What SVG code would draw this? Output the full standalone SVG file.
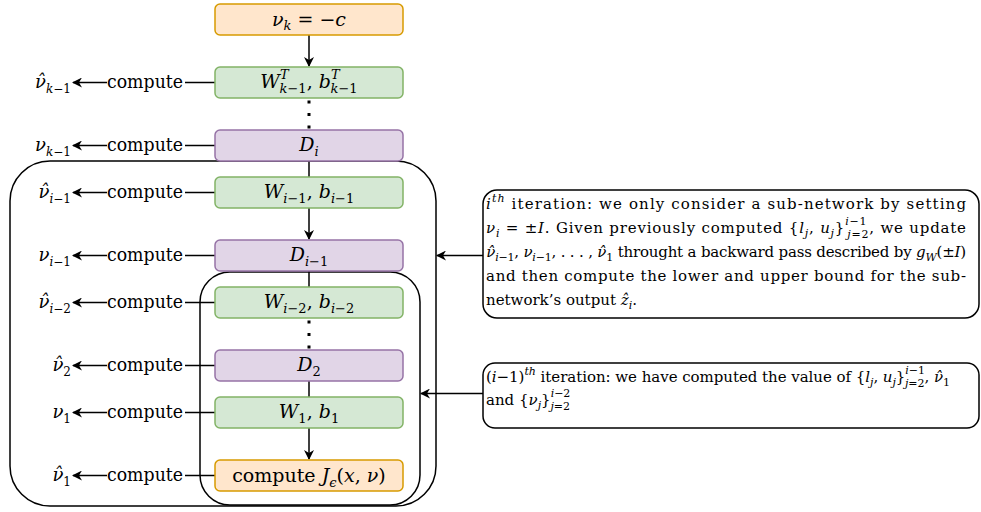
<svg xmlns="http://www.w3.org/2000/svg" width="981" height="512" viewBox="0 0 981 512">
  <style>
    .orange { fill: #ffe6cc; stroke: #d79b00; stroke-width: 1.5; }
    .green { fill: #d5e8d4; stroke: #82b366; stroke-width: 1.5; }
    .purple { fill: #e1d5e7; stroke: #9673a6; stroke-width: 1.5; }
    .frame { fill: none; stroke: #000; stroke-width: 1.5; }
    .callout { fill: #fff; stroke: #000; stroke-width: 1.5; }
    .edge { fill: none; stroke: #000; stroke-width: 1.5; }
    .dots { fill: none; stroke: #000; stroke-width: 3; stroke-dasharray: 3 9.5; }
    .ls { font-family: DejaVu Serif, serif; }
    .dv { font-family: DejaVu Serif, serif; font-style: italic; }
    .math { font-size: 19px; font-style: italic; }
    .lbl { font-size: 18px; font-style: italic; }
    .cmp { font-size: 18px; }
    .note { font-size: 15px; }
    .it { font-style: italic; }
    .up { font-style: normal; }
  </style>
  <defs>
    <marker id="arrow" viewBox="0 0 10 10" refX="9" refY="5" markerWidth="10" markerHeight="10" markerUnits="userSpaceOnUse" orient="auto">
      <path d="M0,0 L10,5 L0,10 L3,5 z" fill="#000"/>
    </marker>
  </defs>

  <!-- iteration frames -->
  <g id="frames">
    <rect id="frame-outer" class="frame" x="10" y="161" width="426" height="345" rx="40"/>
    <rect id="frame-inner" class="frame" x="200" y="272" width="220" height="233" rx="30"/>
  </g>

  <!-- connectors -->
  <g id="connectors">
    <line class="edge" x1="309" y1="35" x2="309" y2="66" marker-end="url(#arrow)"/>
    <line class="dots" x1="309" y1="100.5" x2="309" y2="130"/>
    <line class="edge" x1="309" y1="161" x2="309" y2="177"/>
    <line class="edge" x1="309" y1="208" x2="309" y2="239" marker-end="url(#arrow)"/>
    <line class="edge" x1="309" y1="271" x2="309" y2="287"/>
    <line class="dots" x1="309" y1="320.5" x2="309" y2="350"/>
    <line class="edge" x1="309" y1="381" x2="309" y2="397"/>
    <line class="edge" x1="309" y1="428" x2="309" y2="459" marker-end="url(#arrow)"/>

    <!-- "compute" edges to the left -->
    <g id="compute-edges">
      <path class="edge" d="M215,82.5 H185 M107,82.5 H73" marker-end="url(#arrow)"/>
      <path class="edge" d="M215,145.5 H185 M107,145.5 H73" marker-end="url(#arrow)"/>
      <path class="edge" d="M215,192.5 H185 M107,192.5 H73" marker-end="url(#arrow)"/>
      <path class="edge" d="M215,255.5 H185 M107,255.5 H73" marker-end="url(#arrow)"/>
      <path class="edge" d="M215,302.5 H185 M107,302.5 H73" marker-end="url(#arrow)"/>
      <path class="edge" d="M215,365.5 H185 M107,365.5 H73" marker-end="url(#arrow)"/>
      <path class="edge" d="M215,412.5 H185 M107,412.5 H73" marker-end="url(#arrow)"/>
      <path class="edge" d="M215,475.5 H185 M107,475.5 H73" marker-end="url(#arrow)"/>
      <text class="cmp" x="107" y="88" textLength="76" lengthAdjust="spacingAndGlyphs"><tspan class="ls">compute</tspan></text>
      <text class="cmp" x="107" y="151" textLength="76" lengthAdjust="spacingAndGlyphs"><tspan class="ls">compute</tspan></text>
      <text class="cmp" x="107" y="198" textLength="76" lengthAdjust="spacingAndGlyphs"><tspan class="ls">compute</tspan></text>
      <text class="cmp" x="107" y="261" textLength="76" lengthAdjust="spacingAndGlyphs"><tspan class="ls">compute</tspan></text>
      <text class="cmp" x="107" y="308" textLength="76" lengthAdjust="spacingAndGlyphs"><tspan class="ls">compute</tspan></text>
      <text class="cmp" x="107" y="371" textLength="76" lengthAdjust="spacingAndGlyphs"><tspan class="ls">compute</tspan></text>
      <text class="cmp" x="107" y="418" textLength="76" lengthAdjust="spacingAndGlyphs"><tspan class="ls">compute</tspan></text>
      <text class="cmp" x="107" y="481" textLength="76" lengthAdjust="spacingAndGlyphs"><tspan class="ls">compute</tspan></text>
    </g>

    <!-- callout pointers -->
    <line class="edge" x1="483" y1="255.5" x2="437" y2="255.5" marker-end="url(#arrow)"/>
    <line class="edge" x1="483" y1="393.5" x2="421" y2="393.5" marker-end="url(#arrow)"/>
  </g>

  <!-- output labels -->
  <g id="outputs">
    <text class="lbl" x="71" y="88" text-anchor="end"><tspan class="dv" font-size="18">ν̂</tspan><tspan class="ls" font-size="12" dy="5">k<tspan class="up">−1</tspan></tspan></text>
    <text class="lbl" x="71" y="151" text-anchor="end"><tspan class="dv" font-size="18">ν</tspan><tspan class="ls" font-size="12" dy="5">k<tspan class="up">−1</tspan></tspan></text>
    <text class="lbl" x="71" y="198" text-anchor="end"><tspan class="dv" font-size="18">ν̂</tspan><tspan class="ls" font-size="12" dy="5">i<tspan class="up">−1</tspan></tspan></text>
    <text class="lbl" x="71" y="261" text-anchor="end"><tspan class="dv" font-size="18">ν</tspan><tspan class="ls" font-size="12" dy="5">i<tspan class="up">−1</tspan></tspan></text>
    <text class="lbl" x="71" y="308" text-anchor="end"><tspan class="dv" font-size="18">ν̂</tspan><tspan class="ls" font-size="12" dy="5">i<tspan class="up">−2</tspan></tspan></text>
    <text class="lbl" x="71" y="371" text-anchor="end"><tspan class="dv" font-size="18">ν̂</tspan><tspan class="ls up" font-size="12" dy="5">2</tspan></text>
    <text class="lbl" x="71" y="418" text-anchor="end"><tspan class="dv" font-size="18">ν</tspan><tspan class="ls up" font-size="12" dy="5">1</tspan></text>
    <text class="lbl" x="71" y="481" text-anchor="end"><tspan class="dv" font-size="18">ν̂</tspan><tspan class="ls up" font-size="12" dy="5">1</tspan></text>
  </g>

  <!-- network nodes -->
  <g id="node-nu-k">
    <rect class="orange" x="215" y="4" width="188" height="31" rx="5"/>
    <text class="math" x="309" y="26" text-anchor="middle"><tspan class="dv">ν</tspan><tspan class="ls"><tspan font-size="13" dy="4">k</tspan><tspan dy="-4" class="up"> = −</tspan>c</tspan></text>
  </g>
  <g id="node-w-k1">
    <rect class="green" x="215" y="67" width="188" height="31" rx="5"/>
    <text class="math" x="309" y="88" text-anchor="middle"><tspan class="ls">W<tspan font-size="13" dy="-9">T</tspan><tspan font-size="13" dx="-9" dy="14">k<tspan class="up">−1</tspan></tspan><tspan dy="-5" class="up">, </tspan>b<tspan font-size="13" dy="-9">T</tspan><tspan font-size="13" dx="-9" dy="14">k<tspan class="up">−1</tspan></tspan></tspan></text>
  </g>
  <g id="node-d-i">
    <rect class="purple" x="215" y="130" width="188" height="31" rx="5"/>
    <text class="math" x="309" y="151" text-anchor="middle"><tspan class="ls">D<tspan font-size="13" dy="5">i</tspan></tspan></text>
  </g>
  <g id="node-w-i1">
    <rect class="green" x="215" y="177" width="188" height="31" rx="5"/>
    <text class="math" x="309" y="198" text-anchor="middle"><tspan class="ls">W<tspan font-size="13" dy="5">i<tspan class="up">−1</tspan></tspan><tspan dy="-5" class="up">, </tspan>b<tspan font-size="13" dy="5">i<tspan class="up">−1</tspan></tspan></tspan></text>
  </g>
  <g id="node-d-i1">
    <rect class="purple" x="215" y="240" width="188" height="31" rx="5"/>
    <text class="math" x="309" y="261" text-anchor="middle"><tspan class="ls">D<tspan font-size="13" dy="5">i<tspan class="up">−1</tspan></tspan></tspan></text>
  </g>
  <g id="node-w-i2">
    <rect class="green" x="215" y="287" width="188" height="31" rx="5"/>
    <text class="math" x="309" y="308" text-anchor="middle"><tspan class="ls">W<tspan font-size="13" dy="5">i<tspan class="up">−2</tspan></tspan><tspan dy="-5" class="up">, </tspan>b<tspan font-size="13" dy="5">i<tspan class="up">−2</tspan></tspan></tspan></text>
  </g>
  <g id="node-d-2">
    <rect class="purple" x="215" y="350" width="188" height="31" rx="5"/>
    <text class="math" x="309" y="371" text-anchor="middle"><tspan class="ls">D<tspan font-size="13" dy="5" class="up">2</tspan></tspan></text>
  </g>
  <g id="node-w-1">
    <rect class="green" x="215" y="397" width="188" height="31" rx="5"/>
    <text class="math" x="309" y="418" text-anchor="middle"><tspan class="ls">W<tspan font-size="13" dy="5" class="up">1</tspan><tspan dy="-5" class="up">, </tspan>b<tspan font-size="13" dy="5" class="up">1</tspan></tspan></text>
  </g>
  <g id="node-compute-j">
    <rect class="orange" x="215" y="460" width="188" height="31" rx="5"/>
    <text class="math" x="309" y="482" text-anchor="middle"><tspan class="ls"><tspan class="up">compute </tspan>J<tspan font-size="13" dy="5">ϵ</tspan><tspan dy="-5" class="up">(</tspan>x<tspan class="up">, </tspan></tspan><tspan class="dv">ν</tspan><tspan class="ls up">)</tspan></text>
  </g>

  <!-- iteration notes -->
  <g id="note-i">
    <rect class="callout" x="483" y="190" width="496" height="128" rx="14"/>
    <text class="note" x="486" y="209" textLength="480" lengthAdjust="spacing"><tspan class="ls"><tspan class="it">i</tspan><tspan class="it" font-size="11" dy="-7">th</tspan><tspan dy="7"> iteration: we only consider a sub-network by setting</tspan></tspan></text>
    <text class="note" x="486" y="233" textLength="480" lengthAdjust="spacing"><tspan class="dv">ν</tspan><tspan class="ls"><tspan class="it" font-size="11" dy="4">i</tspan><tspan dy="-4"> = ±</tspan><tspan class="it">I</tspan>. Given previously computed {<tspan class="it">l</tspan><tspan class="it" font-size="11" dy="4">j</tspan><tspan dy="-4">, </tspan><tspan class="it">u</tspan><tspan class="it" font-size="11" dy="4">j</tspan><tspan dy="-4">}</tspan><tspan font-size="11" dy="-8"><tspan class="it">i</tspan>−1</tspan><tspan font-size="11" dx="-20" dy="13"><tspan class="it">j</tspan>=2</tspan><tspan dy="-5">, we update</tspan></tspan></text>
    <text class="note" x="486" y="257" textLength="480" lengthAdjust="spacing"><tspan class="dv">ν̂</tspan><tspan class="ls" font-size="11" dy="4"><tspan class="it">i</tspan>−1</tspan><tspan class="ls" dy="-4">, </tspan><tspan class="dv">ν</tspan><tspan class="ls" font-size="11" dy="4"><tspan class="it">i</tspan>−1</tspan><tspan class="ls" dy="-4">, . . . , </tspan><tspan class="dv">ν̂</tspan><tspan class="ls" font-size="11" dy="4">1</tspan><tspan class="ls" dy="-4"> throught a backward pass described by <tspan class="it">g</tspan><tspan class="it" font-size="11" dy="4">W</tspan><tspan dy="-4">(±</tspan><tspan class="it">I</tspan>)</tspan></text>
    <text class="note" x="486" y="281" textLength="480" lengthAdjust="spacing"><tspan class="ls">and then compute the lower and upper bound for the sub-</tspan></text>
    <text class="note" x="486" y="305"><tspan class="ls">network’s output </tspan><tspan class="dv">ẑ</tspan><tspan class="ls"><tspan class="it" font-size="11" dy="4">i</tspan><tspan dy="-4">.</tspan></tspan></text>
  </g>
  <g id="note-i-1">
    <rect class="callout" x="483" y="363" width="496" height="65" rx="12"/>
    <text class="note" x="486" y="382" textLength="464" lengthAdjust="spacing"><tspan class="ls">(<tspan class="it">i</tspan>−1)<tspan class="it" font-size="11" dy="-7">th</tspan><tspan dy="7"> iteration: we have computed the value of {</tspan><tspan class="it">l</tspan><tspan class="it" font-size="11" dy="4">j</tspan><tspan dy="-4">, </tspan><tspan class="it">u</tspan><tspan class="it" font-size="11" dy="4">j</tspan><tspan dy="-4">}</tspan><tspan font-size="11" dy="-8"><tspan class="it">i</tspan>−1</tspan><tspan font-size="11" dx="-20" dy="13"><tspan class="it">j</tspan>=2</tspan><tspan dy="-5">, </tspan></tspan><tspan class="dv">ν̂</tspan><tspan class="ls" font-size="11" dy="4">1</tspan></text>
    <text class="note" x="486" y="405"><tspan class="ls">and {</tspan><tspan class="dv">ν</tspan><tspan class="ls"><tspan class="it" font-size="11" dy="4">j</tspan><tspan dy="-4">}</tspan><tspan font-size="11" dy="-8"><tspan class="it">i</tspan>−2</tspan><tspan font-size="11" dx="-20" dy="13"><tspan class="it">j</tspan>=2</tspan></tspan></text>
  </g>
</svg>
